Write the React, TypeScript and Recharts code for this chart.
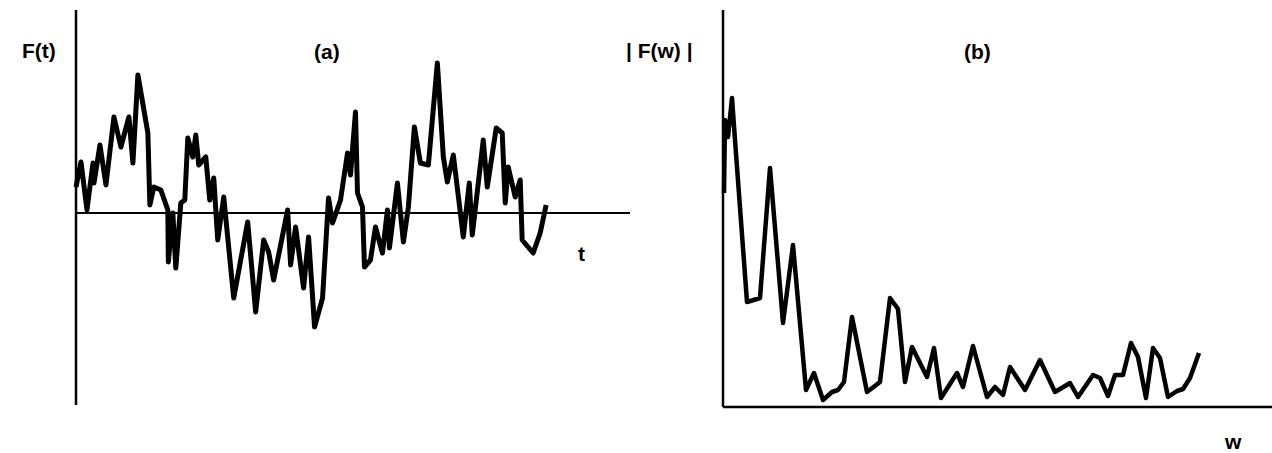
import React from 'react';
import { LineChart, Line, XAxis, YAxis, ReferenceLine } from 'recharts';

// ─── (a) signal F(t) ──────────────────────────────────────────────────────────

const T_VALUES = [
  0, 1, 2.2, 3.4, 3.6, 4.8, 6, 7.6, 9, 10.6, 11.4, 12.4, 14.4, 14.8, 15.6, 17, 18.4, 18.5, 19.4, 20,
  21, 21.8, 22.4, 23.4, 24, 24.6, 26, 26.8, 27.6, 28.4, 29.6, 31.6, 34.4, 36, 37.6, 38.6, 39.6, 42.4,
  43, 44, 45.6, 46.6, 47.8, 49.4, 50.6, 51.4, 53, 54.4, 55, 56, 56.4, 57.4, 57.8, 59, 60, 61.4, 62.4,
  62.8, 64.4, 65.6, 66.6, 67.8, 69, 70.6, 72.4, 73.6, 74.4, 75.6, 77.6, 78.8, 79.4, 81.6, 82.4, 84.2,
  85.4, 86, 86.6, 88, 89, 89.4, 91.6, 93, 94.2,
];

const F_T = [
  2.6, 5.1, 0.3, 5.0, 3.0, 6.8, 2.8, 9.6, 6.6, 9.6, 5.0, 13.8, 8.0, 0.8, 2.6, 2.3, 0.3, -4.9, 0, -5.5,
  1.0, 1.3, 7.5, 5.6, 7.8, 4.8, 5.6, 1.3, 3.5, -2.7, 1.6, -8.5, -0.9, -9.9, -2.7, -3.9, -6.7, 0.3,
  -5.2, -1.4, -7.5, -2.4, -11.4, -8.5, 1.5, -1.0, 1.3, 6.0, 3.8, 10.1, 2.0, 0.6, -5.4, -4.7, -1.4, -4.0, 0.3,
  -3.5, 3.0, -2.9, 0.6, 8.6, 5.0, 4.8, 15.0, 5.6, 3.1, 5.8, -2.4, 3.0, -2.2, 7.3, 2.6, 8.5,
  8.0, 1.0, 4.6, 1.6, 3.3, -2.7, -4.0, -2.0, 0.8,
];

// ─── (b) spectrum |F(w)| ──────────────────────────────────────────────────────

const W_VALUES = [
  0.2, 0.4, 1, 1.8, 2.4, 4.8, 7.4, 9.4, 12, 14, 16.6, 18.2, 20, 21.8, 23, 24.2, 25.8, 28.8, 31.4, 33.4,
  35, 36.4, 37.8, 40.8, 42.2, 43.6, 46.8, 48, 50, 52.8, 54.4, 56, 57.4, 60.4, 63.4, 66.4, 69.4, 71,
  74, 75.4, 77, 78.4, 80, 81.6, 83, 84.6, 86, 87.4, 89, 90.8, 92, 93.4, 95.2,
];

const F_W = [
  21.4, 28.7, 27.0, 30.9, 26.7, 10.5, 10.9, 23.9, 8.4, 16.2, 1.7, 3.4, 0.7, 1.5, 1.7, 2.5, 9.0, 1.5, 2.5, 10.9,
  9.8, 2.5, 6.0, 3.0, 5.9, 0.9, 3.4, 2.0, 6.1, 1.0, 2.0, 1.2, 4.0, 1.7, 4.7, 1.5, 2.4, 1.0,
  3.2, 2.9, 1.1, 3.2, 3.2, 6.4, 5.0, 0.9, 5.9, 4.9, 1.0, 1.6, 1.8, 2.9, 5.4,
];

const signalData = T_VALUES.map((t, i) => ({ t, f: F_T[i] }));
const spectrumData = W_VALUES.map((w, i) => ({ w, f: F_W[i] }));

const labelStyle: React.CSSProperties = {
  position: 'absolute',
  fontFamily: '"Liberation Sans", Arial, sans-serif',
  fontWeight: 700,
  fontSize: 21,
  color: '#000',
  lineHeight: 1,
  whiteSpace: 'nowrap',
};

const axisLine = { stroke: '#000', strokeWidth: 2.5 };

export default function App() {
  return (
    <div style={{ position: 'absolute', left: 0, top: 0, width: 1272, height: 453, background: '#fff', overflow: 'hidden' }}>
      <div style={{ position: 'absolute', left: 0, top: 0 }}>
        <LineChart width={640} height={453} data={signalData} margin={{ top: 10, right: 10, bottom: 48, left: 75 }}>
          <XAxis dataKey="t" type="number" domain={[0, 111]} hide />
          <YAxis type="number" domain={[-19.2, 20.3]} allowDataOverflow width={1} tick={false} tickLine={false} axisLine={axisLine} />
          <ReferenceLine y={0} stroke="#000" strokeWidth={2} />
          <Line type="linear" dataKey="f" stroke="#000" strokeWidth={5} strokeLinejoin="round" dot={false} isAnimationActive={false} />
        </LineChart>
      </div>

      <div style={{ position: 'absolute', left: 640, top: 0 }}>
        <LineChart width={632} height={453} data={spectrumData} margin={{ top: 10, right: 0, bottom: 45, left: 82 }}>
          <XAxis dataKey="w" type="number" domain={[0, 109.8]} height={1} tick={false} tickLine={false} axisLine={axisLine} />
          <YAxis type="number" domain={[0, 39.7]} allowDataOverflow width={1} tick={false} tickLine={false} axisLine={axisLine} />
          <Line type="linear" dataKey="f" stroke="#000" strokeWidth={4.5} strokeLinejoin="round" dot={false} isAnimationActive={false} />
        </LineChart>
      </div>

      <div style={{ ...labelStyle, left: 22, top: 40 }}>F(t)</div>
      <div style={{ ...labelStyle, left: 314, top: 41 }}>(a)</div>
      <div style={{ ...labelStyle, left: 626, top: 40 }}>| F(w) |</div>
      <div style={{ ...labelStyle, left: 964, top: 41 }}>(b)</div>
      <div style={{ ...labelStyle, left: 578, top: 243 }}>t</div>
      <div style={{ ...labelStyle, left: 1225, top: 431 }}>w</div>
    </div>
  );
}
